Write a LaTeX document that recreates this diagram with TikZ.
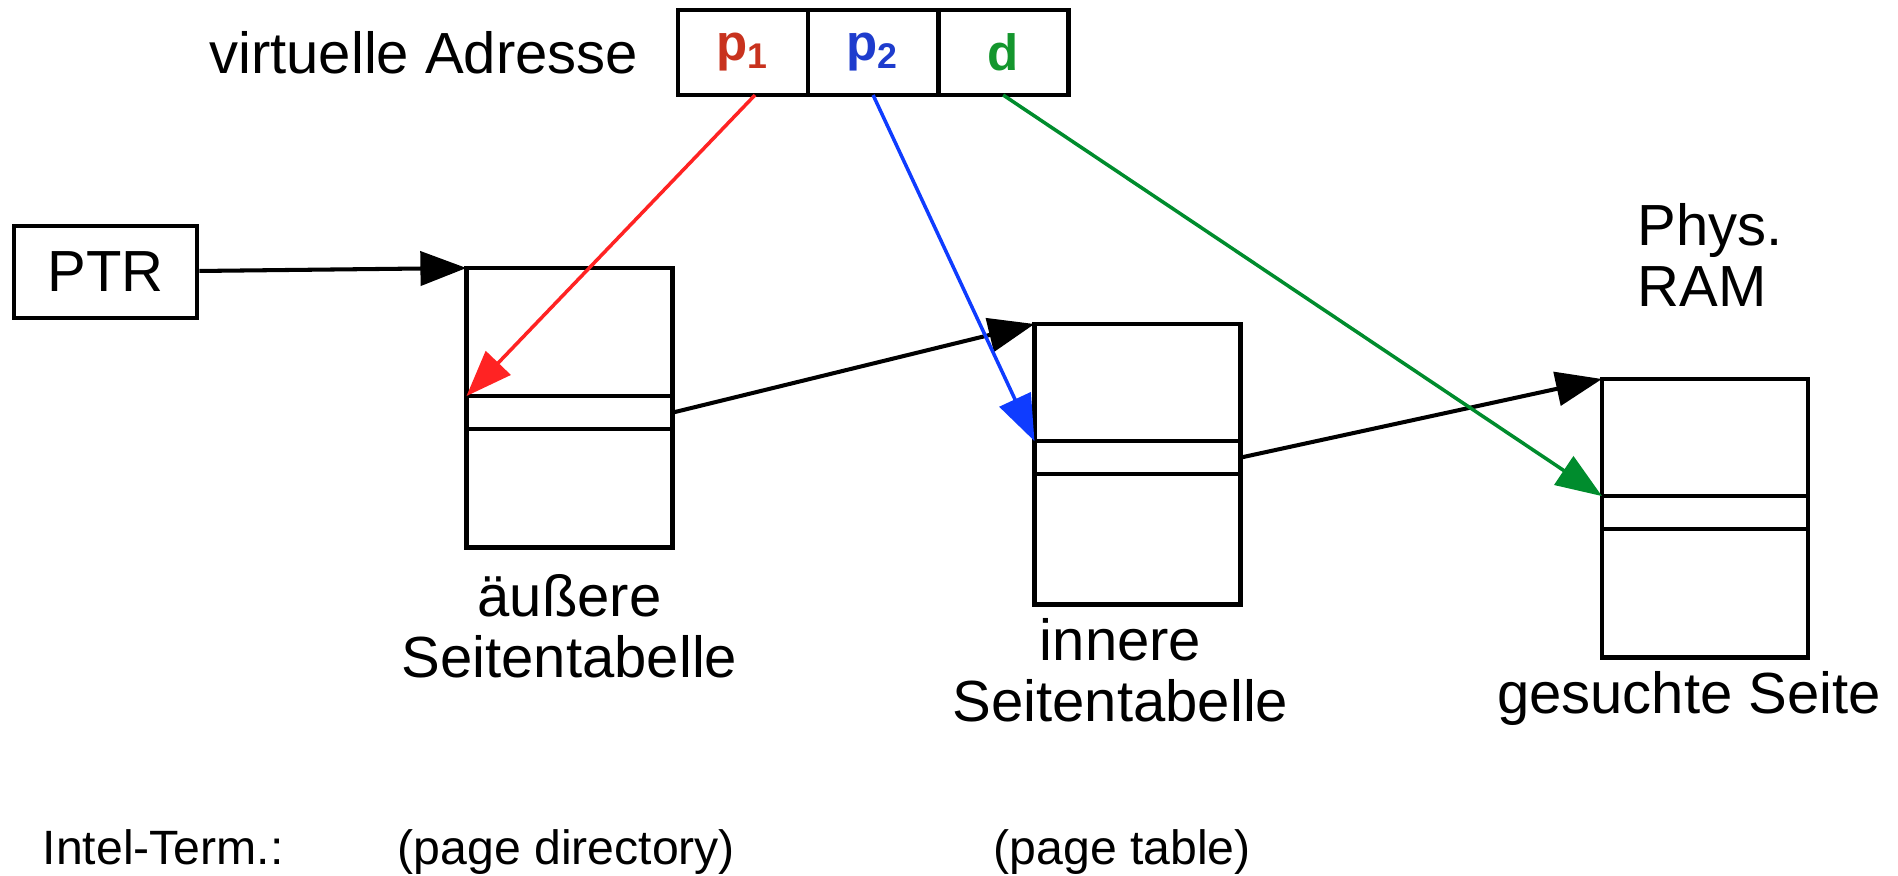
\documentclass[tikz,border=0pt]{standalone}
\usepackage{fontspec}
\setmainfont{Liberation Sans}
\usetikzlibrary{arrows.meta,positioning}
\definecolor{pr}{RGB}{200,50,30}
\definecolor{pb}{RGB}{30,60,205}
\definecolor{pg}{RGB}{20,150,45}
\definecolor{ar}{RGB}{255,35,35}
\definecolor{ab}{RGB}{15,60,255}
\definecolor{ag}{RGB}{0,140,45}
\newcommand{\seitentab}[4]{
  \node[fach, minimum height=#3, anchor=north] (#1a) at (#2) {};
  \node[fach, minimum height=0.33cm, below=0pt of #1a] (#1e) {};
  \node[fach, minimum height=#4, below=0pt of #1e] (#1b) {};
}
\tikzset{fach/.style={rectangle, draw, line width=1.35pt, minimum width=2.06cm,
            inner sep=0pt, outer sep=0pt},
         feld/.style={rectangle, draw, line width=1.35pt, minimum width=1.3cm,
            minimum height=0.85cm, inner sep=0pt, outer sep=0pt,
            font=\fontsize{14.5}{16}\selectfont\bfseries},
         txt/.style={inner sep=0pt, font=\fontsize{16.5}{17.3}\selectfont},
         klein/.style={inner sep=0pt, font=\fontsize{13.7}{15}\selectfont},
         pfeil/.style={-{Triangle[length=0.46cm, width=0.34cm]}, line width=1.15pt}}

\begin{document}
\begin{tikzpicture}[x=0.01cm, y=-0.01cm]
 \useasboundingbox (0,0) rectangle (1898,875);

 \node[feld, text=pr] (p1) at (743,52.5) {p\textsubscript{1}};
 \node[feld, text=pb] (p2) [right=0pt of p1] {p\textsubscript{2}};
 \node[feld, text=pg] (d) [right=0pt of p2] {d};
 \node[txt] (va) [left=0.39cm of p1] {virtuelle Adresse};

 \node[txt, draw, line width=1.35pt, minimum width=1.83cm, minimum height=0.92cm]
   (ptr) at (105.5,272) {PTR};

 \seitentab{t1}{569.5,268}{1.28cm}{1.18cm}
 \seitentab{t2}{1137.5,324}{1.17cm}{1.30cm}
 \seitentab{t3}{1705,379}{1.17cm}{1.28cm}

 \node[txt, align=center] (l1) [below=0.27cm of t1b] {äußere\\Seitentabelle};
 \node[txt, align=center, xshift=-0.17cm] (l2) [below=0.14cm of t2b] {innere\\Seitentabelle};
 \node[txt, xshift=-0.16cm] (l3) [below=0.14cm of t3b] {gesuchte Seite};
 \node[txt, align=left, anchor=north west] (ram) at (1637,203) {Phys.\\RAM};

 \node[klein, anchor=base west] (it) at (42,864) {Intel-Term.:};
 \node[klein, anchor=base west] (pd) at (397,864) {(page directory)};
 \node[klein, anchor=base west] (pt) at (993,864) {(page table)};

 \draw[pfeil] (ptr) -- (t1a.north west);
 \draw[pfeil] (t1e.east) -- (t2a.north west);
 \draw[pfeil] (t2e.east) -- (t3a.north west);
 \draw[pfeil, ar, line width=1pt] ([xshift=0.12cm]p1.south) -- (t1e.north west);
 \draw[pfeil, ab, line width=1pt] (p2.south) -- (t2e.north west);
 \draw[pfeil, ag, line width=1pt] (d.south) -- (t3e.north west);
\end{tikzpicture}
\end{document}
